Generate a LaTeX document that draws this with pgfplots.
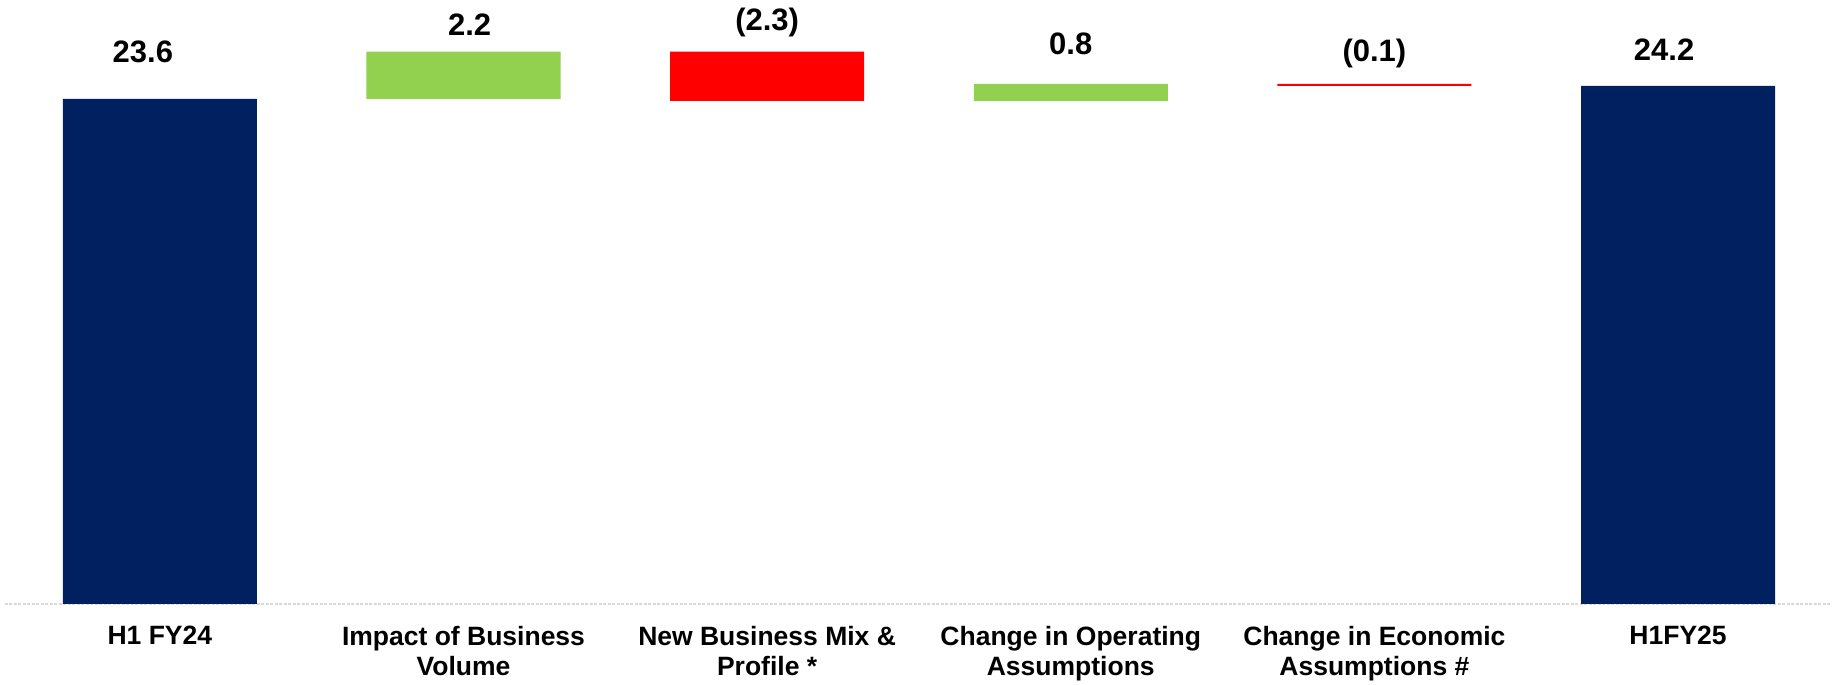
\documentclass[border=0pt]{standalone}
\usepackage{pgfplots}
\pgfplotsset{compat=1.18}
\usepackage{fontspec}
\setmainfont{Liberation Sans}
\definecolor{navyc}{HTML}{002060}
\definecolor{lgreen}{HTML}{92D050}
\definecolor{bred}{HTML}{FF0000}
\definecolor{lgray}{HTML}{D9D9D9}
\newcommand\catfont{\fontsize{7.54pt}{8.6pt}\selectfont\bfseries}
\newcommand\valfont{\fontsize{8.82pt}{10pt}\selectfont\bfseries}
\tikzset{vlab/.style={anchor=base, inner sep=0pt, font=\valfont}}
\begin{document}
\begin{tikzpicture}
\useasboundingbox (0,0) rectangle (183.2mm,68.5mm);
\begin{axis}[
  at={(0.5mm,8.1mm)}, anchor=south west,
  scale only axis, width=182.7mm, height=57.8mm,
  xmin=-0.51, xmax=5.507, ymin=0, ymax=27,
  ybar stacked, bar width=0.639,
  axis x line=bottom, axis y line=none,
  x axis line style={-, draw=lgray, line width=0.2mm, dash pattern=on 0.3mm off 0.15mm},
  xtick={0,1,2,3,4,5}, major tick length=0pt,
  xticklabels={H1 FY24, {Impact of Business\\Volume}, {New Business Mix \&\\Profile *}, {Change in Operating\\Assumptions}, {Change in Economic\\Assumptions \#}, H1FY25},
  xticklabel style={font=\catfont, align=center, anchor=north, inner sep=0pt, yshift=-2.15mm},
  ytick=\empty,
  clip=false,
]
\addplot[draw=none, fill=none] coordinates {(0,0) (1,23.6) (2,23.5) (3,23.5) (4,24.2) (5,0)};
\addplot[draw=none, fill=navyc] coordinates {(0,23.6) (1,0) (2,0) (3,0) (4,0) (5,24.2)};
\addplot[draw=none, fill=lgreen] coordinates {(0,0) (1,2.2) (2,0) (3,0.8) (4,0) (5,0)};
\addplot[draw=none, fill=bred] coordinates {(0,0) (1,0) (2,2.3) (3,0) (4,0.1) (5,0)};
\node[vlab] at (axis cs:-0.056,25.28) {23.6};
\node[vlab] at (axis cs:1.02,26.54) {2.2};
\node[vlab] at (axis cs:2,26.78) {(2.3)};
\node[vlab] at (axis cs:3,25.65) {0.8};
\node[vlab] at (axis cs:4,25.33) {(0.1)};
\node[vlab] at (axis cs:4.954,25.37) {24.2};
\end{axis}
\end{tikzpicture}
\end{document}
